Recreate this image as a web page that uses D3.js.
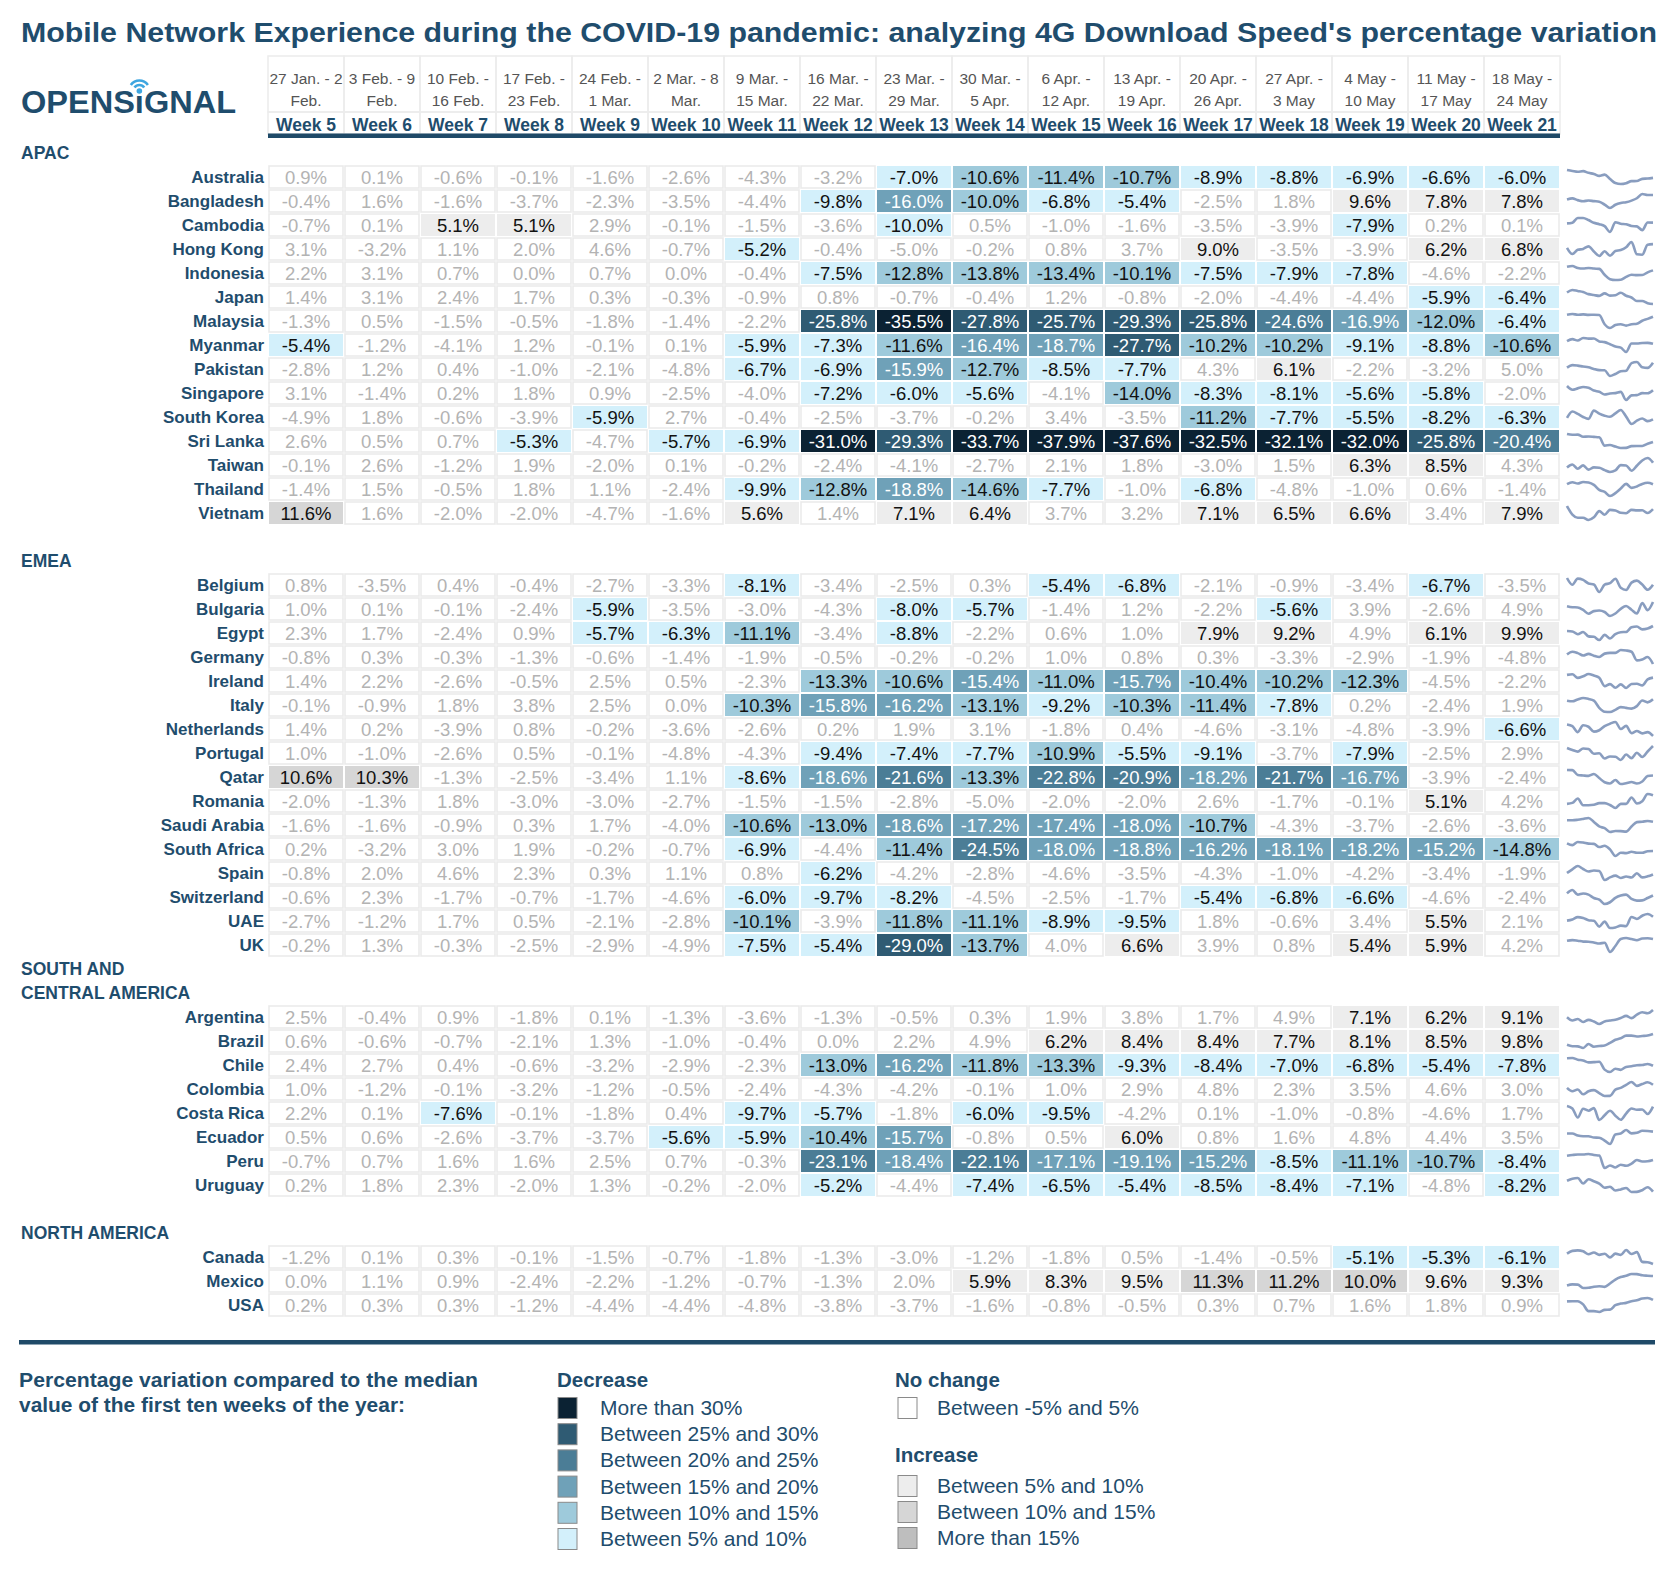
<!DOCTYPE html>
<html><head><meta charset="utf-8">
<script src="https://cdn.jsdelivr.net/npm/d3@7"></script>
<style>
body{margin:0;background:#fff}
svg{display:block}
text{font-family:"Liberation Sans",Arial,Helvetica,sans-serif}
</style>
</head><body>
<svg id="chart" width="1680" height="1572"></svg>
<script>
// ---------- DATA ----------
const titleText = "Mobile Network Experience during the COVID-19 pandemic: analyzing 4G Download Speed's percentage variation";
const weeks = ["Week 5","Week 6","Week 7","Week 8","Week 9","Week 10","Week 11","Week 12","Week 13","Week 14","Week 15","Week 16","Week 17","Week 18","Week 19","Week 20","Week 21"];
const datesLine1 = ["27 Jan. - 2","3 Feb. - 9","10 Feb. -","17 Feb. -","24 Feb. -","2 Mar. - 8","9 Mar. -","16 Mar. -","23 Mar. -","30 Mar. -","6 Apr. -","13 Apr. -","20 Apr. -","27 Apr. -","4 May -","11 May -","18 May -"];
const datesLine2 = ["Feb.","Feb.","16 Feb.","23 Feb.","1 Mar.","Mar.","15 Mar.","22 Mar.","29 Mar.","5 Apr.","12 Apr.","19 Apr.","26 Apr.","3 May","10 May","17 May","24 May"];

const apacCountries = ["Australia","Bangladesh","Cambodia","Hong Kong","Indonesia","Japan","Malaysia","Myanmar","Pakistan","Singapore","South Korea","Sri Lanka","Taiwan","Thailand","Vietnam"];
const apacValues = [
 [0.9,0.1,-0.6,-0.1,-1.6,-2.6,-4.3,-3.2,-7.0,-10.6,-11.4,-10.7,-8.9,-8.8,-6.9,-6.6,-6.0],
 [-0.4,1.6,-1.6,-3.7,-2.3,-3.5,-4.4,-9.8,-16.0,-10.04,-6.8,-5.4,-2.5,1.8,9.6,7.8,7.8],
 [-0.7,0.1,5.1,5.1,2.9,-0.1,-1.5,-3.6,-9.96,0.5,-1.0,-1.6,-3.5,-3.9,-7.9,0.2,0.1],
 [3.1,-3.2,1.1,2.0,4.6,-0.7,-5.2,-0.4,-5.0,-0.2,0.8,3.7,9.0,-3.5,-3.9,6.2,6.8],
 [2.2,3.1,0.7,0.0,0.7,0.0,-0.4,-7.5,-12.8,-13.8,-13.4,-10.1,-7.5,-7.9,-7.8,-4.6,-2.2],
 [1.4,3.1,2.4,1.7,0.3,-0.3,-0.9,0.8,-0.7,-0.4,1.2,-0.8,-2.0,-4.4,-4.4,-5.9,-6.4],
 [-1.3,0.5,-1.5,-0.5,-1.8,-1.4,-2.2,-25.8,-35.5,-27.8,-25.7,-29.3,-25.8,-24.6,-16.9,-12.0,-6.4],
 [-5.4,-1.2,-4.1,1.2,-0.1,0.1,-5.9,-7.3,-11.6,-16.4,-18.7,-27.7,-10.2,-10.2,-9.1,-8.8,-10.6],
 [-2.8,1.2,0.4,-1.0,-2.1,-4.8,-6.7,-6.9,-15.9,-12.7,-8.5,-7.7,4.3,6.1,-2.2,-3.2,5.0],
 [3.1,-1.4,0.2,1.8,0.9,-2.5,-4.0,-7.2,-6.0,-5.6,-4.1,-14.0,-8.3,-8.1,-5.6,-5.8,-2.0],
 [-4.9,1.8,-0.6,-3.9,-5.9,2.7,-0.4,-2.5,-3.7,-0.2,3.4,-3.5,-11.2,-7.7,-5.5,-8.2,-6.3],
 [2.6,0.5,0.7,-5.3,-4.7,-5.7,-6.9,-31.0,-29.3,-33.7,-37.9,-37.6,-32.5,-32.1,-32.0,-25.8,-20.4],
 [-0.1,2.6,-1.2,1.9,-2.0,0.1,-0.2,-2.4,-4.1,-2.7,2.1,1.8,-3.0,1.5,6.3,8.5,4.3],
 [-1.4,1.5,-0.5,1.8,1.1,-2.4,-9.9,-12.8,-18.8,-14.6,-7.7,-1.0,-6.8,-4.8,-1.0,0.6,-1.4],
 [11.6,1.6,-2.0,-2.0,-4.7,-1.6,5.6,1.4,7.1,6.4,3.7,3.2,7.1,6.5,6.6,3.4,7.9]
];

const emeaCountries = ["Belgium","Bulgaria","Egypt","Germany","Ireland","Italy","Netherlands","Portugal","Qatar","Romania","Saudi Arabia","South Africa","Spain","Switzerland","UAE","UK"];
const emeaValues = [
 [0.8,-3.5,0.4,-0.4,-2.7,-3.3,-8.1,-3.4,-2.5,0.3,-5.4,-6.8,-2.1,-0.9,-3.4,-6.7,-3.5],
 [1.0,0.1,-0.1,-2.4,-5.9,-3.5,-3.0,-4.3,-8.0,-5.7,-1.4,1.2,-2.2,-5.6,3.9,-2.6,4.9],
 [2.3,1.7,-2.4,0.9,-5.7,-6.3,-11.1,-3.4,-8.8,-2.2,0.6,1.0,7.9,9.2,4.9,6.1,9.9],
 [-0.8,0.3,-0.3,-1.3,-0.6,-1.4,-1.9,-0.5,-0.2,-0.2,1.0,0.8,0.3,-3.3,-2.9,-1.9,-4.8],
 [1.4,2.2,-2.6,-0.5,2.5,0.5,-2.3,-13.3,-10.6,-15.4,-11.0,-15.7,-10.4,-10.2,-12.3,-4.5,-2.2],
 [-0.1,-0.9,1.8,3.8,2.5,0.0,-10.3,-15.8,-16.2,-13.1,-9.2,-10.3,-11.4,-7.8,0.2,-2.4,1.9],
 [1.4,0.2,-3.9,0.8,-0.2,-3.6,-2.6,0.2,1.9,3.1,-1.8,0.4,-4.6,-3.1,-4.8,-3.9,-6.6],
 [1.0,-1.0,-2.6,0.5,-0.1,-4.8,-4.3,-9.4,-7.4,-7.7,-10.9,-5.5,-9.1,-3.7,-7.9,-2.5,2.9],
 [10.6,10.3,-1.3,-2.5,-3.4,1.1,-8.6,-18.6,-21.6,-13.3,-22.8,-20.9,-18.2,-21.7,-16.7,-3.9,-2.4],
 [-2.0,-1.3,1.8,-3.0,-3.0,-2.7,-1.5,-1.5,-2.8,-5.0,-2.0,-2.0,2.6,-1.7,-0.1,5.1,4.2],
 [-1.6,-1.6,-0.9,0.3,1.7,-4.0,-10.6,-13.0,-18.6,-17.2,-17.4,-18.0,-10.7,-4.3,-3.7,-2.6,-3.6],
 [0.2,-3.2,3.0,1.9,-0.2,-0.7,-6.9,-4.4,-11.4,-24.5,-18.0,-18.8,-16.2,-18.1,-18.2,-15.2,-14.8],
 [-0.8,2.0,4.6,2.3,0.3,1.1,0.8,-6.2,-4.2,-2.8,-4.6,-3.5,-4.3,-1.0,-4.2,-3.4,-1.9],
 [-0.6,2.3,-1.7,-0.7,-1.7,-4.6,-6.0,-9.7,-8.2,-4.5,-2.5,-1.7,-5.4,-6.8,-6.6,-4.6,-2.4],
 [-2.7,-1.2,1.7,0.5,-2.1,-2.8,-10.1,-3.9,-11.8,-11.1,-8.9,-9.5,1.8,-0.6,3.4,5.5,2.1],
 [-0.2,1.3,-0.3,-2.5,-2.9,-4.9,-7.5,-5.4,-29.0,-13.7,4.0,6.6,3.9,0.8,5.4,5.9,4.2]
];

const scaCountries = ["Argentina","Brazil","Chile","Colombia","Costa Rica","Ecuador","Peru","Uruguay"];
const scaValues = [
 [2.5,-0.4,0.9,-1.8,0.1,-1.3,-3.6,-1.3,-0.5,0.3,1.9,3.8,1.7,4.9,7.1,6.2,9.1],
 [0.6,-0.6,-0.7,-2.1,1.3,-1.0,-0.4,0.0,2.2,4.9,6.2,8.4,8.4,7.7,8.1,8.5,9.8],
 [2.4,2.7,0.4,-0.6,-3.2,-2.9,-2.3,-13.0,-16.2,-11.8,-13.3,-9.3,-8.4,-7.0,-6.8,-5.4,-7.8],
 [1.0,-1.2,-0.1,-3.2,-1.2,-0.5,-2.4,-4.3,-4.2,-0.1,1.0,2.9,4.8,2.3,3.5,4.6,3.0],
 [2.2,0.1,-7.6,-0.1,-1.8,0.4,-9.7,-5.7,-1.8,-6.0,-9.5,-4.2,0.1,-1.0,-0.8,-4.6,1.7],
 [0.5,0.6,-2.6,-3.7,-3.7,-5.6,-5.9,-10.4,-15.7,-0.8,0.5,6.0,0.8,1.6,4.8,4.4,3.5],
 [-0.7,0.7,1.6,1.6,2.5,0.7,-0.3,-23.1,-18.4,-22.1,-17.1,-19.1,-15.2,-8.5,-11.1,-10.7,-8.4],
 [0.2,1.8,2.3,-2.0,1.3,-0.2,-2.0,-5.2,-4.4,-7.4,-6.5,-5.4,-8.5,-8.4,-7.1,-4.8,-8.2]
];

const naCountries = ["Canada","Mexico","USA"];
const naValues = [
 [-1.2,0.1,0.3,-0.1,-1.5,-0.7,-1.8,-1.3,-3.0,-1.2,-1.8,0.5,-1.4,-0.5,-5.1,-5.3,-6.1],
 [0.0,1.1,0.9,-2.4,-2.2,-1.2,-0.7,-1.3,2.0,5.9,8.3,9.5,11.3,11.2,10.0,9.6,9.3],
 [0.2,0.3,0.3,-1.2,-4.4,-4.4,-4.8,-3.8,-3.7,-1.6,-0.8,-0.5,0.3,0.7,1.6,1.8,0.9]
];

const regionNames = [["APAC"],["EMEA"],["SOUTH AND","CENTRAL AMERICA"],["NORTH AMERICA"]];
const regionCountries = [apacCountries, emeaCountries, scaCountries, naCountries];
const regionValues = [apacValues, emeaValues, scaValues, naValues];

const legendTitle = ["Percentage variation compared to the median","value of the first ten weeks of the year:"];
const decreaseLabels = ["More than 30%","Between 25% and 30%","Between 20% and 25%","Between 15% and 20%","Between 10% and 15%","Between 5% and 10%"];
const increaseLabels = ["Between 5% and 10%","Between 10% and 15%","More than 15%"];
const noChangeLabel = "Between -5% and 5%";

// ---------- STYLE ----------
const NAVY = "#1f4d6d";
const thresholds = [-30,-25,-20,-15,-10,-5.05,5.05,10,15];
const fills = ["#0b2233","#2f5b73","#4b7d96","#6fa1b8","#9ecadb","#d3f0fb","#ffffff","#ededed","#d6d6d6","#bebebe"];
const color = d3.scaleThreshold().domain(thresholds).range(fills);
const textColor = v => v < -15 ? "#ffffff" : (v >= -5.05 && v < 5.05 ? "#b3b3b3" : "#111111");

const svg = d3.select("#chart");

// ---------- layout scales ----------
const x = d3.scaleBand().domain(weeks).range([268, 1560]).padding(0);
const slots = [];
regionNames.forEach((rn, ri) => {
  if (ri === 1 || ri === 3) slots.push({type:"blank"});
  rn.forEach(t => slots.push({type:"region", text:t}));
  regionCountries[ri].forEach((c, ci) => slots.push({type:"row", name:c, values: regionValues[ri][ci]}));
});
const y = d3.scaleLinear().domain([0, slots.length - 1]).range([153, 1305]);
slots.forEach((s,i) => s.y = y(i));

// ---------- title ----------
svg.append("text").attr("x", 21).attr("y", 42)
  .attr("font-size", 28).attr("font-weight", "bold").attr("fill", NAVY)
  .attr("textLength", 1636).attr("lengthAdjust", "spacingAndGlyphs")
  .text(titleText);

// ---------- logo ----------
const logo = svg.append("g");
const logoText = logo.append("text").attr("x", 21).attr("y", 113)
  .attr("font-family", "'Open Sans', 'Noto Sans', sans-serif")
  .attr("font-size", 32).attr("font-weight", 600).attr("fill", NAVY)
  .attr("textLength", 215).attr("lengthAdjust", "spacingAndGlyphs")
  .text("OPENS\u0131GNAL");
let ix = 137;
try { const e = logoText.node().getExtentOfChar(5); ix = e.x + e.width/2; } catch(err) {}
const LOGOBLUE = "#3ea6e0";
logo.append("circle").attr("cx", ix).attr("cy", 91).attr("r", 2.8).attr("fill", LOGOBLUE);
const arcGen = d3.arc();
[6, 10.5].forEach(r => {
  logo.append("path").attr("transform", `translate(${ix},91)`)
    .attr("d", arcGen({innerRadius: r - 1.3, outerRadius: r + 1.3, startAngle: -0.95, endAngle: 0.95}))
    .attr("fill", LOGOBLUE);
});

// ---------- header ----------
const header = svg.append("g");
weeks.forEach((w) => {
  header.append("rect").attr("x", x(w)).attr("y", 56).attr("width", x.bandwidth()).attr("height", 56)
    .attr("fill", "none").attr("stroke", "#ececec").attr("stroke-width", 1.5);
  header.append("rect").attr("x", x(w)).attr("y", 112).attr("width", x.bandwidth()).attr("height", 22)
    .attr("fill", "none").attr("stroke", "#ececec").attr("stroke-width", 1.5);
});
header.selectAll("text.d1").data(weeks).join("text")
  .attr("x", d => x(d) + x.bandwidth()/2).attr("y", 84).attr("text-anchor","middle")
  .attr("font-size", 15.5).attr("fill", "#555").text((d,i) => datesLine1[i]);
header.selectAll("text.d2").data(weeks).join("text")
  .attr("x", d => x(d) + x.bandwidth()/2).attr("y", 106).attr("text-anchor","middle")
  .attr("font-size", 15.5).attr("fill", "#555").text((d,i) => datesLine2[i]);
header.selectAll("text.wk").data(weeks).join("text")
  .attr("x", d => x(d) + x.bandwidth()/2).attr("y", 131).attr("text-anchor","middle")
  .attr("font-size", 17.5).attr("font-weight","bold").attr("fill", NAVY).text(d => d);
svg.append("rect").attr("x", x.range()[0]).attr("y", 133.5).attr("width", x.range()[1]-x.range()[0]).attr("height", 4.5).attr("fill", "#1f4a68");

// ---------- body ----------
const body = svg.append("g");
const spX = d3.scalePoint().domain(weeks).range([1567, 1653]);
slots.forEach(s => {
  if (s.type === "region") {
    body.append("text").attr("x", 21).attr("y", s.y + 6)
      .attr("font-size", 17.5).attr("font-weight","bold").attr("fill", NAVY).text(s.text);
  } else if (s.type === "row") {
    body.append("text").attr("x", 264).attr("y", s.y + 6).attr("text-anchor","end")
      .attr("font-size", 17).attr("font-weight","bold").attr("fill", NAVY).text(s.name);
    const cells = body.append("g");
    const data = s.values.map((v,i) => ({w: weeks[i], v}));
    cells.selectAll("rect").data(data).join("rect")
      .attr("x", d => x(d.w) + 1).attr("y", s.y - 11)
      .attr("width", x.bandwidth() - 2).attr("height", 22)
      .attr("fill", d => color(d.v))
      .attr("stroke", d => color(d.v) === "#ffffff" ? "#ebebeb" : "none")
      .attr("stroke-width", 1.6);
    cells.selectAll("text").data(data).join("text")
      .attr("x", d => x(d.w) + x.bandwidth()/2).attr("y", s.y + 6.5)
      .attr("text-anchor","middle").attr("font-size", 18.5)
      .attr("fill", d => textColor(d.v))
      .text(d => d.v.toFixed(1) + "%");
    const ext = d3.extent(s.values);
    const sy = d3.scaleLinear().domain(ext).range([s.y + 7, s.y - 7]);
    const line = d3.line().x(d => spX(d.w)).y(d => sy(d.v)).curve(d3.curveMonotoneX);
    body.append("path").attr("d", line(data)).attr("fill","none")
      .attr("stroke", "#8398bc").attr("stroke-width", 2.6).attr("stroke-linejoin","round").attr("opacity", 0.95);
  }
});

// ---------- bottom rule ----------
svg.append("rect").attr("x", 19).attr("y", 1340).attr("width", 1636).attr("height", 4.5).attr("fill", "#1f4a68");

// ---------- legend ----------
const lg = svg.append("g");
legendTitle.forEach((t,i) => {
  lg.append("text").attr("x", 19).attr("y", 1387 + i*24.5).attr("font-size", 20).attr("font-weight","bold")
    .attr("fill", NAVY).attr("textLength", i===0 ? 459 : 386).attr("lengthAdjust","spacingAndGlyphs").text(t);
});
lg.append("text").attr("x", 557).attr("y", 1387).attr("font-size", 20.5).attr("font-weight","bold").attr("fill", NAVY).text("Decrease");
lg.append("text").attr("x", 895).attr("y", 1387).attr("font-size", 20.5).attr("font-weight","bold").attr("fill", NAVY).text("No change");
lg.append("text").attr("x", 895).attr("y", 1462).attr("font-size", 20.5).attr("font-weight","bold").attr("fill", NAVY).text("Increase");

const decY = d3.scaleLinear().domain([0, 5]).range([1408, 1539]);
const decFills = fills.slice(0, 6);
decreaseLabels.forEach((t,i) => {
  lg.append("rect").attr("x", 558).attr("y", decY(i) - 10.5).attr("width", 19).attr("height", 21)
    .attr("fill", decFills[i]).attr("stroke", "#8a8a8a").attr("stroke-width", 1);
  lg.append("text").attr("x", 600).attr("y", decY(i) + 7).attr("font-size", 21).attr("fill", NAVY).text(t);
});
lg.append("rect").attr("x", 898).attr("y", decY(0) - 10.5).attr("width", 19).attr("height", 21)
  .attr("fill", "#ffffff").attr("stroke", "#8a8a8a").attr("stroke-width", 1);
lg.append("text").attr("x", 937).attr("y", decY(0) + 7).attr("font-size", 21).attr("fill", NAVY).text(noChangeLabel);
const incFills = fills.slice(7);
const incY = d3.scaleLinear().domain([0, 2]).range([1486, 1538]);
increaseLabels.forEach((t,i) => {
  lg.append("rect").attr("x", 898).attr("y", incY(i) - 10.5).attr("width", 19).attr("height", 21)
    .attr("fill", incFills[i]).attr("stroke", "#8a8a8a").attr("stroke-width", 1);
  lg.append("text").attr("x", 937).attr("y", incY(i) + 7).attr("font-size", 21).attr("fill", NAVY).text(t);
});
</script>
</body></html>
